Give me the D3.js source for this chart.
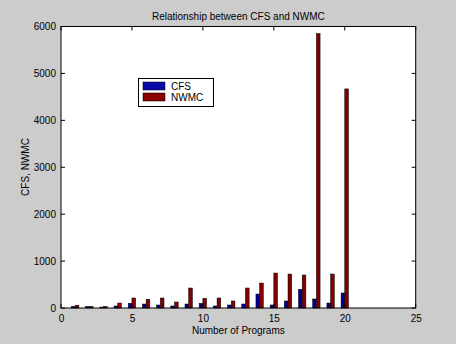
<!DOCTYPE html>
<html><head><meta charset="utf-8">
<script src="https://cdn.jsdelivr.net/npm/d3@7"></script>
<style>
html,body{margin:0;padding:0;background:#cccccc;}
svg{display:block;font-family:"Liberation Sans",Arial,sans-serif;}
</style></head>
<body>
<svg id="c" width="456" height="344"></svg>
<script>
const programs = [1,2,3,4,5,6,7,8,9,10,11,12,13,14,15,16,17,18,19,20];
const cfs  = [35,35,20,43,100,85,64,43,85,100,43,64,85,298,64,150,398,192,106,320];
const nwmc = [57,35,35,106,213,185,213,128,426,206,213,150,426,532,745,724,703,5850,724,4670];
const xTicks = [0,5,10,15,20,25];
const yTicks = [0,1000,2000,3000,4000,5000,6000];
const seriesNames = ["CFS","NWMC"];
const seriesColors = ["#000090","#800000"];
const legendColors = ["#0a0aa8","#8a0000"];
const title = "Relationship between CFS and NWMC";
const xLabel = "Number of Programs";
const yLabel = "CFS, NWMC";

const svg = d3.select("#c");
const L = 61, R = 415.7, T = 26.5, B = 308;
const x = d3.scaleLinear().domain([0,25]).range([L,R]);
const y = d3.scaleLinear().domain([0,6000]).range([B,T]);

svg.append("rect").attr("x",L).attr("y",T).attr("width",R-L).attr("height",B-T).attr("fill","#fff");

const bw = 0.26;
const series = [cfs, nwmc];
series.forEach((vals,si)=>{
  svg.append("g").selectAll("rect").data(programs).join("rect")
    .attr("x",(d)=> si===0 ? x(d-bw) : x(d))
    .attr("width", x(bw)-x(0))
    .attr("y",(d,i)=>y(vals[i]))
    .attr("height",(d,i)=>B-y(vals[i]))
    .attr("fill",seriesColors[si])
    .attr("stroke","#000").attr("stroke-width",0.5);
});

// axes
const tickLen = 4;
const gx = svg.append("g").attr("transform",`translate(0,${B})`)
  .call(d3.axisBottom(x).tickValues(xTicks).tickSize(0).tickPadding(7).tickFormat(d3.format("d")));
const gy = svg.append("g").attr("transform",`translate(${L},0)`)
  .call(d3.axisLeft(y).tickValues(yTicks).tickSize(0).tickPadding(5).tickFormat(d3.format("d")));
[gx,gy].forEach(g=>{
  g.select(".domain").remove();
  g.selectAll("text").attr("font-size",10).attr("fill","#000")
    .attr("font-family","'Liberation Sans',Arial,sans-serif");
});
// inward ticks on all four sides
const tk = svg.append("g").attr("stroke","#000").attr("stroke-width",1);
xTicks.forEach(v=>{
  tk.append("line").attr("x1",x(v)).attr("x2",x(v)).attr("y1",B).attr("y2",B-tickLen);
  tk.append("line").attr("x1",x(v)).attr("x2",x(v)).attr("y1",T).attr("y2",T+tickLen);
});
yTicks.forEach(v=>{
  tk.append("line").attr("x1",L).attr("x2",L+tickLen).attr("y1",y(v)).attr("y2",y(v));
  tk.append("line").attr("x1",R).attr("x2",R-tickLen).attr("y1",y(v)).attr("y2",y(v));
});
svg.append("rect").attr("x",L).attr("y",T).attr("width",R-L).attr("height",B-T)
  .attr("fill","none").attr("stroke","#000").attr("stroke-width",1);

svg.append("text").attr("x",(L+R)/2).attr("y",20).attr("text-anchor","middle")
  .attr("font-size",10).text(title);
svg.append("text").attr("x",(L+R)/2).attr("y",334).attr("text-anchor","middle")
  .attr("font-size",10).text(xLabel);
svg.append("text").attr("transform","translate(29,167) rotate(-90)").attr("text-anchor","middle")
  .attr("font-size",10).text(yLabel);

// legend
const lg = svg.append("g");
lg.append("rect").attr("x",138.5).attr("y",78.5).attr("width",75).attr("height",28)
  .attr("fill","#fff").attr("stroke","#000").attr("stroke-width",1);
seriesNames.forEach((n,i)=>{
  lg.append("rect").attr("x",143).attr("y",82+i*11).attr("width",22).attr("height",8)
    .attr("fill",legendColors[i]).attr("stroke","#000").attr("stroke-width",0.5);
  lg.append("text").attr("x",171).attr("y",90+i*11).attr("font-size",10).text(n);
});
</script>
</body></html>
